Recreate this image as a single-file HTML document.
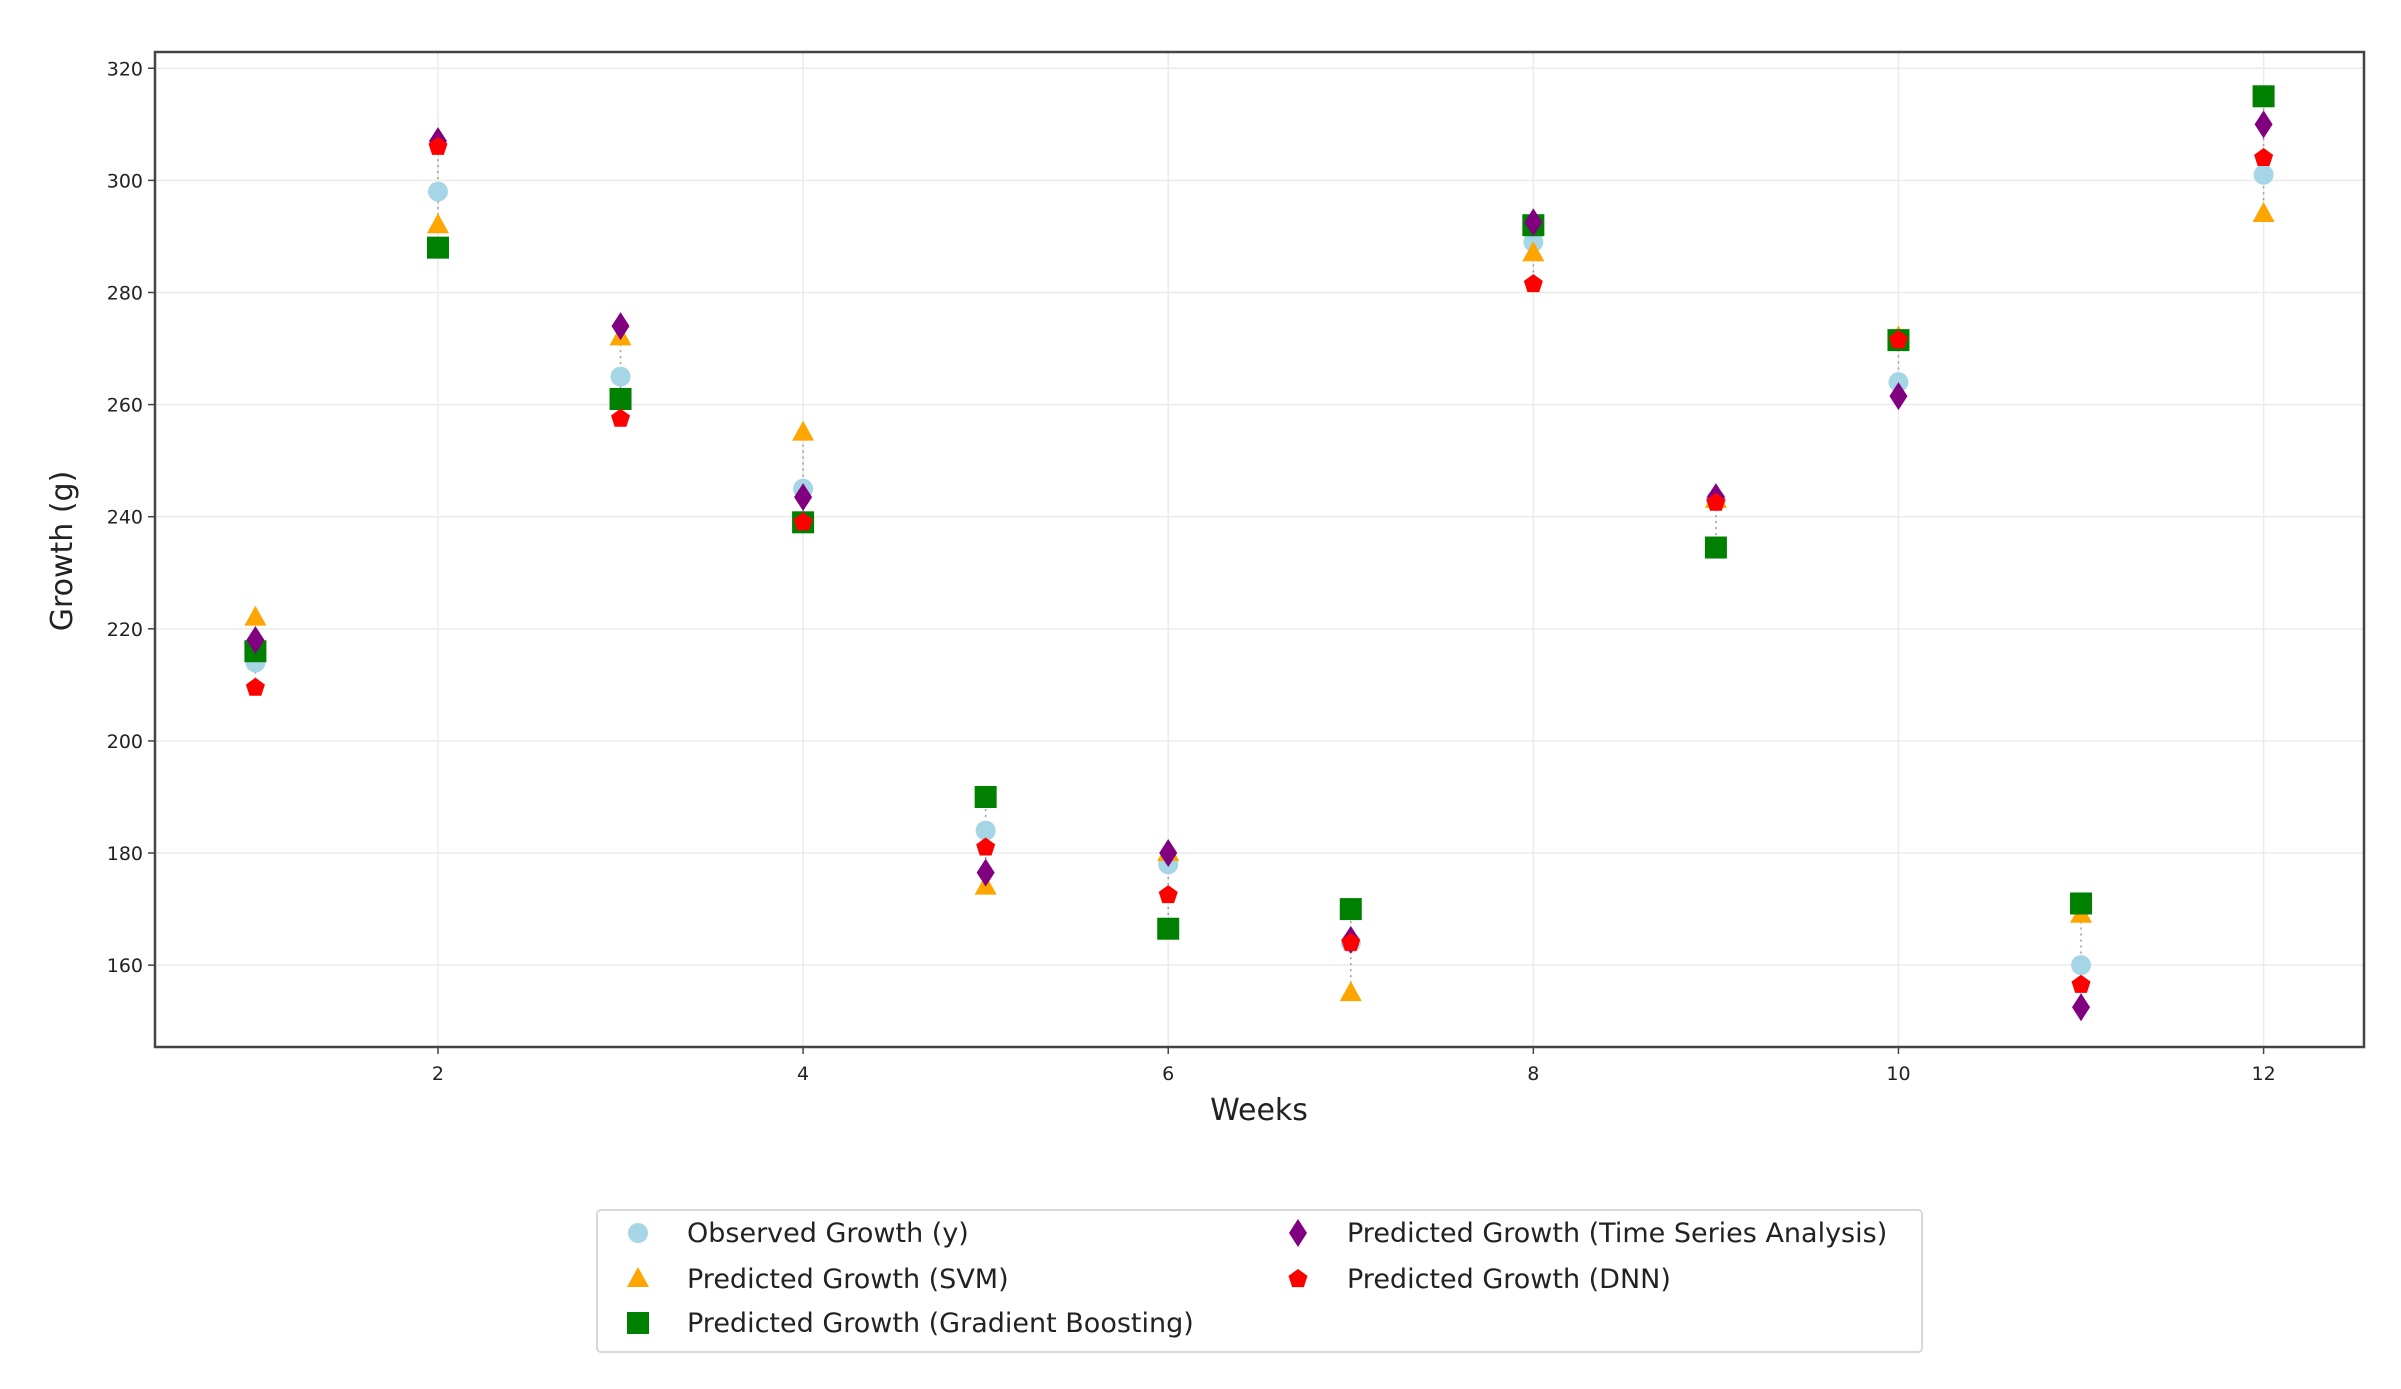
<!DOCTYPE html>
<html><head><meta charset="utf-8">
<style>
html,body{margin:0;padding:0;background:#fff;}
svg{display:block;font-family:"DejaVu Sans","Liberation Sans",sans-serif;}
</style></head>
<body>
<svg id="chart" width="2401" height="1389" viewBox="0 0 2401 1389" xmlns="http://www.w3.org/2000/svg">
<g id="grid"></g>
<g id="stems"></g>
<g id="marks"></g>
<rect x="155" y="52" width="2209" height="995" fill="none" stroke="#444" stroke-width="2.5"/>
<g id="xticks"></g>
<g id="yticks"></g>
<text x="1259" y="1120" font-size="30" text-anchor="middle" fill="#222">Weeks</text>
<text x="0" y="0" font-size="30" text-anchor="middle" fill="#222" transform="translate(72,551) rotate(-90)">Growth (g)</text>
<g id="legend">
<rect x="597" y="1210" width="1325" height="142" rx="4" fill="#fff" stroke="#d8d8d8" stroke-width="2"/>
</g>
</svg>
<script>
const weeks = [1,2,3,4,5,6,7,8,9,10,11,12];
const observed = [214,298,265,245,184,178,164,289,243,264,160,301];
const svm = [222,292,272,255,174,180,155,287,243,272,169,294];
const gboost = [216,288,261,239,190,166.5,170,292,234.5,271.5,171,315];
const tsa = [218,307,274,243.5,176.5,180,164.5,292.5,243.5,261.5,152.5,310];
const dnn = [209.5,306,257.5,239,181,172.5,164,281.5,242.5,271.5,156.5,304];
const xTicks = [2,4,6,8,10,12];
const yTicks = [160,180,200,220,240,260,280,300,320];
const seriesNames = ["Observed Growth (y)","Predicted Growth (SVM)","Predicted Growth (Gradient Boosting)","Predicted Growth (Time Series Analysis)","Predicted Growth (DNN)"];

const NS="http://www.w3.org/2000/svg";
const L=155,R=2364,T=52,B=1047;
const xmin=0.45,xmax=12.55,ymin=145.4,ymax=322.9;
function xs(v){return L+(v-xmin)/(xmax-xmin)*(R-L);}
function ys(v){return B-(v-ymin)/(ymax-ymin)*(B-T);}
function el(tag,attrs,parent){const e=document.createElementNS(NS,tag);for(const k in attrs)e.setAttribute(k,attrs[k]);parent.appendChild(e);return e;}

const grid=document.getElementById('grid');
const xg=document.getElementById('xticks');
const yg=document.getElementById('yticks');
xTicks.forEach(t=>{
  const x=xs(t);
  const g=el('line',{x1:x,x2:x,y1:T,y2:B,stroke:'#ebebeb','stroke-width':1.5},grid);
  
  
  const tk=el('line',{x1:x,x2:x,y1:B,y2:B+7,stroke:'#444','stroke-width':1.5},xg);
  
  
  const tx=el('text',{x:x,y:B+33,'font-size':19,'text-anchor':'middle',fill:'#222'},xg);
  tx.textContent=t;
  
  
});
yTicks.forEach(t=>{
  const y=ys(t);
  const g=el('line',{x1:L,x2:R,y1:y,y2:y,stroke:'#ebebeb','stroke-width':1.5},grid);
  
  
  const tk=el('line',{x1:L-7,x2:L,y1:y,y2:y,stroke:'#444','stroke-width':1.5},yg);
  
  
  const tx=el('text',{x:L-12,y:y+7,'font-size':19,'text-anchor':'end',fill:'#222'},yg);
  tx.textContent=t;
  
  
});

function marker(kind,cx,cy,parent){
  let e;
  if(kind==='circle') e=el('circle',{cx:cx,cy:cy,r:10,fill:'#a6d5e6'},parent);
  else if(kind==='tri') e=el('polygon',{points:`${cx},${cy-12} ${cx+11},${cy+8} ${cx-11},${cy+8}`,fill:'#ffa500'},parent);
  else if(kind==='square') e=el('rect',{x:cx-11,y:cy-11,width:22,height:22,fill:'#008000'},parent);
  else if(kind==='diamond') e=el('polygon',{points:`${cx},${cy-14} ${cx+9},${cy} ${cx},${cy+14} ${cx-9},${cy}`,fill:'#800080'},parent);
  else { const p=[];for(let i=0;i<5;i++){const a=-Math.PI/2+i*2*Math.PI/5;p.push((cx+10*Math.cos(a))+','+(cy+10*Math.sin(a)));} e=el('polygon',{points:p.join(' '),fill:'#ff0000'},parent);}
  return e;
}
const series=[[observed,'circle','observed'],[svm,'tri','svm'],[gboost,'square','gradient-boosting'],[tsa,'diamond','time-series'],[dnn,'pent','dnn']];
const stems=document.getElementById('stems');
const marks=document.getElementById('marks');
weeks.forEach((w,i)=>{
  const vals=series.map(s=>s[0][i]);
  const ln=el('line',{x1:xs(w),x2:xs(w),y1:ys(Math.max(...vals)),y2:ys(Math.min(...vals)),stroke:'#999','stroke-width':1.5,'stroke-dasharray':'2,4'},stems);
  
  
});
series.forEach(s=>{
  s[0].forEach((v,i)=>{
    const m=marker(s[1],xs(weeks[i]),ys(v),marks);
    
    
  });
});
const lg=document.getElementById('legend');
const pos=[[638,1233],[638,1279],[638,1323],[1298,1233],[1298,1279]];
const kinds=['circle','tri','square','diamond','pent'];
seriesNames.forEach((n,i)=>{
  const [mx,my]=pos[i];
  const m=marker(kinds[i],mx,my,lg);
  
  
  const t=el('text',{x:mx+49,y:my+9,'font-size':27,fill:'#222'},lg);
  t.textContent=n;
  
  
});
</script>
</body></html>
